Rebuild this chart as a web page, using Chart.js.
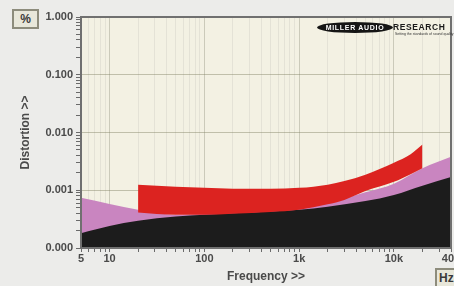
<!DOCTYPE html>
<html lang="en">
<head>
    <meta charset="UTF-8">
    <title>Distortion vs Frequency</title>
    <script src="https://cdn.jsdelivr.net/npm/chart.js"></script>
    <style>
        body {
            margin: 0;
            background-color: #ececea;
            overflow: hidden;
            font-family: 'Liberation Sans', Arial, sans-serif;
        }
        .chart-wrap {
            position: absolute;
            left: 0;
            top: 0;
            width: 480px;
            height: 286px;
        }
        .unit-box {
            position: absolute;
            border: 2px solid #8d8c7c;
            background: #e8e7da;
            color: #3a3a3a;
            font-weight: bold;
            font-size: 12px;
            line-height: 16px;
            box-sizing: border-box;
        }
        .logo-oval {
            position: absolute;
            left: 317px;
            top: 22px;
            width: 76px;
            height: 11px;
            border-radius: 50%;
            background: #151515;
            color: #fff;
            font-size: 7px;
            font-weight: bold;
            line-height: 11px;
            text-align: center;
            letter-spacing: 0.7px;
        }
        .logo-word {
            position: absolute;
            left: 393px;
            top: 22px;
            font-size: 8.5px;
            font-weight: bold;
            color: #1a1a1a;
            letter-spacing: 0.6px;
        }
        .logo-sub {
            position: absolute;
            left: 395px;
            top: 32px;
            font-size: 3.5px;
            color: #333;
            white-space: nowrap;
        }
    </style>
</head>
<body>
    <div class="chart-wrap">
        <canvas id="distChart"></canvas>
    </div>
    <div class="unit-box" style="left:12px;top:9px;width:27px;height:20px;text-align:center;">%</div>
    <div class="unit-box" style="left:435px;top:268px;width:30px;height:22px;padding-left:2px;">Hz</div>
    <div class="logo-oval">MILLER AUDIO</div>
    <div class="logo-word">RESEARCH</div>
    <div class="logo-sub">Setting the standards of sound quality</div>

    <script>
        // readings from the plot (Hz, %)
        const blackFreq = [5, 10, 20, 50, 100, 200, 500, 1000, 2000, 5000, 10000, 20000, 40000];
        const blackVals = [0.00018, 0.00024, 0.000295, 0.00035, 0.000375, 0.0004, 0.00043, 0.00046, 0.00052, 0.00065, 0.00083, 0.0012, 0.0017];

        const pinkFreq = [5, 10, 20, 50, 100, 200, 500, 1000, 2000, 5000, 10000, 20000, 40000];
        const pinkVals = [0.00074, 0.00058, 0.00046, 0.000375, 0.00039, 0.00041, 0.00044, 0.00048, 0.0006, 0.00092, 0.0013, 0.0024, 0.0038];

        const redFreq = [20, 50, 100, 200, 500, 1000, 2000, 3000, 5000, 10000, 15000, 20000];
        const redTop = [0.00125, 0.00115, 0.0011, 0.00106, 0.00106, 0.0011, 0.00125, 0.00145, 0.00186, 0.003, 0.0042, 0.0062];
        const redBottom = [0.00041, 0.000375, 0.000375, 0.00039, 0.00042, 0.00046, 0.00057, 0.00068, 0.00097, 0.0014, 0.0019, 0.0024];

        const xLabelValues = [5, 10, 100, 1000, 10000, 40000];
        const xLabelTexts = ['5', '10', '100', '1k', '10k', '40k'];
        const yDecades = [0.0001, 0.001, 0.01, 0.1, 1];

        // tick positions: every 1..9 step inside each decade
        const xTicks = [];
        [1, 10, 100, 1000, 10000].forEach(d => {
            for (let m = 1; m < 10; m++) {
                const v = m * d;
                if (v >= 5 && v <= 40000) xTicks.push(v);
            }
        });
        const yTicks = [];
        yDecades.forEach(d => {
            for (let m = 1; m < 10; m++) {
                const v = m * d;
                if (v <= 1.0000001) yTicks.push(v);
            }
        });

        const isDecade = v => Math.abs(Math.log10(v) - Math.round(Math.log10(v))) < 1e-6;
        const toPoints = (xs, ys) => xs.map((x, i) => ({ x: x, y: ys[i] }));

        const tickFont = { family: "'Liberation Sans', Arial, sans-serif", size: 11, weight: 'bold' };
        const titleFont = { family: "'Liberation Sans', Arial, sans-serif", size: 12, weight: 'bold' };

        const plotFrame = {
            id: 'plotFrame',
            beforeDraw(chart) {
                const { ctx, chartArea: a } = chart;
                ctx.save();
                ctx.fillStyle = '#f3f1e3';
                ctx.fillRect(a.left, a.top, a.right - a.left, a.bottom - a.top);
                ctx.restore();
            },
            afterDraw(chart) {
                const { ctx, chartArea: a } = chart;
                ctx.save();
                ctx.strokeStyle = '#707070';
                ctx.lineWidth = 2;
                ctx.strokeRect(a.left, a.top, a.right - a.left, a.bottom - a.top);
                ctx.restore();
            }
        };

        const lineBase = {
            borderWidth: 0,
            pointRadius: 0,
            cubicInterpolationMode: 'monotone'
        };

        const ctx = document.getElementById('distChart').getContext('2d');
        new Chart(ctx, {
            type: 'line',
            data: {
                datasets: [
                    Object.assign({
                        label: 'red top',
                        data: toPoints(redFreq, redTop),
                        backgroundColor: '#dc2320',
                        borderColor: '#dc2320',
                        fill: '+1'
                    }, lineBase),
                    Object.assign({
                        label: 'red bottom',
                        data: toPoints(redFreq, redBottom),
                        borderColor: '#dc2320',
                        fill: false
                    }, lineBase),
                    Object.assign({
                        label: 'black',
                        data: toPoints(blackFreq, blackVals),
                        backgroundColor: '#1c1c1c',
                        borderColor: '#1c1c1c',
                        fill: 'start'
                    }, lineBase),
                    Object.assign({
                        label: 'pink',
                        data: toPoints(pinkFreq, pinkVals),
                        backgroundColor: '#c985c0',
                        borderColor: '#c985c0',
                        fill: 'start'
                    }, lineBase)
                ]
            },
            options: {
                responsive: true,
                maintainAspectRatio: false,
                animation: false,
                layout: { padding: { left: 0, top: 17, right: 29, bottom: 0 } },
                plugins: {
                    legend: { display: false },
                    tooltip: { enabled: false }
                },
                scales: {
                    x: {
                        type: 'logarithmic',
                        min: 5,
                        max: 40000,
                        z: 1,
                        afterBuildTicks: axis => { axis.ticks = xTicks.map(v => ({ value: v })); },
                        afterFit: axis => { axis.height = 38; },
                        border: { display: false },
                        grid: {
                            color: c => isDecade(c.tick.value) ? 'rgba(140,140,120,0.38)' : 'rgba(170,170,165,0.2)',
                            tickColor: '#6a6a6a',
                            tickLength: 4
                        },
                        ticks: {
                            autoSkip: false,
                            maxRotation: 0,
                            padding: 0,
                            color: '#4a4a4a',
                            font: tickFont,
                            callback: v => {
                                const i = xLabelValues.indexOf(v);
                                return i >= 0 ? xLabelTexts[i] : '';
                            }
                        },
                        title: {
                            display: true,
                            text: 'Frequency >>',
                            color: '#4a4a4a',
                            font: titleFont,
                            padding: { top: 0, bottom: 2 }
                        }
                    },
                    y: {
                        type: 'logarithmic',
                        min: 0.0001,
                        max: 1,
                        z: 1,
                        afterBuildTicks: axis => { axis.ticks = yTicks.map(v => ({ value: v })); },
                        afterFit: axis => { axis.width = 81; },
                        border: { display: false },
                        grid: {
                            color: c => isDecade(c.tick.value) ? 'rgba(130,130,100,0.45)' : 'transparent',
                            tickColor: '#6a6a6a',
                            tickLength: 5
                        },
                        ticks: {
                            autoSkip: false,
                            padding: 3,
                            color: '#4a4a4a',
                            font: tickFont,
                            callback: v => isDecade(v) ? v.toFixed(3) : ''
                        },
                        title: {
                            display: true,
                            text: 'Distortion >>',
                            color: '#4a4a4a',
                            font: titleFont,
                            padding: { top: 18, bottom: 0 }
                        }
                    }
                }
            },
            plugins: [plotFrame]
        });
    </script>
</body>
</html>
